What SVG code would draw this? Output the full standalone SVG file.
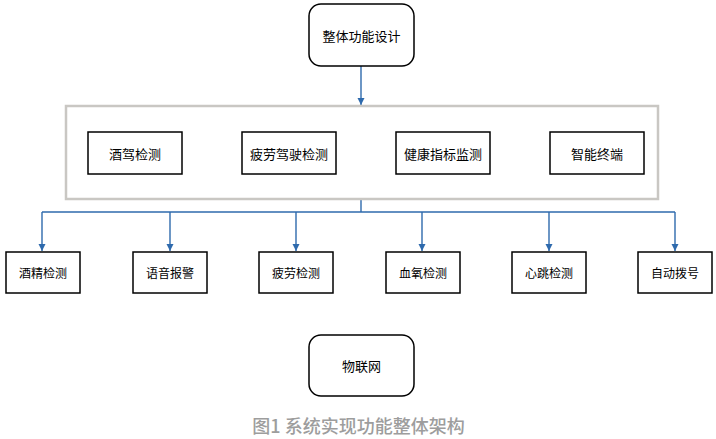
<svg xmlns="http://www.w3.org/2000/svg" width="716" height="439" viewBox="0 0 716 439">
<style>
text{font-family:"Noto Sans CJK SC","Liberation Sans",sans-serif;fill:#000;text-anchor:middle;dominant-baseline:central}
.b{fill:#fff;stroke:#000;stroke-width:1.5}
.t13{font-size:13px}
.t12{font-size:12px}
.c{fill:none;stroke:#2e6aad;stroke-width:1.4}
</style>
<defs>
<marker id="ah" markerWidth="8" markerHeight="8" refX="7" refY="4" orient="auto" markerUnits="userSpaceOnUse">
<path d="M0,0.5 L7,4 L0,7.5 Z" fill="#2e6aad"/>
</marker>
</defs>
<rect x="0" y="0" width="716" height="439" fill="#fff"/>
<g id="connectors">
<line class="c" x1="361" y1="66" x2="361" y2="105" marker-end="url(#ah)"/>
<polyline class="c" points="361,199 361,212"/>
<line class="c" x1="42" y1="212" x2="675" y2="212"/>
<line class="c" x1="42" y1="212" x2="42" y2="251" marker-end="url(#ah)"/>
<line class="c" x1="170" y1="212" x2="170" y2="251" marker-end="url(#ah)"/>
<line class="c" x1="296" y1="212" x2="296" y2="251" marker-end="url(#ah)"/>
<line class="c" x1="422" y1="212" x2="422" y2="251" marker-end="url(#ah)"/>
<line class="c" x1="549" y1="212" x2="549" y2="251" marker-end="url(#ah)"/>
<line class="c" x1="675" y1="212" x2="675" y2="251" marker-end="url(#ah)"/>
</g>
<g id="top">
<rect class="b" x="309" y="4" width="105" height="62" rx="12"/>
<text class="t13" x="361.5" y="35">整体功能设计</text>
</g>
<g id="container">
<rect x="66" y="106" width="592" height="93" fill="#fff" stroke="#c9c7c3" stroke-width="2.5"/>
</g>
<g id="n1"><rect class="b" x="88" y="132" width="94" height="42"/><text class="t13" x="135" y="153">酒驾检测</text></g>
<g id="n2"><rect class="b" x="242" y="132" width="94" height="42"/><text class="t13" x="289" y="153">疲劳驾驶检测</text></g>
<g id="n3"><rect class="b" x="396" y="132" width="94" height="42"/><text class="t13" x="443" y="153">健康指标监测</text></g>
<g id="n4"><rect class="b" x="550" y="132" width="94" height="42"/><text class="t13" x="597" y="153">智能终端</text></g>
<g id="b1"><rect class="b" x="6" y="252" width="74" height="41"/><text class="t12" x="43" y="272.5">酒精检测</text></g>
<g id="b2"><rect class="b" x="133" y="252" width="74" height="41"/><text class="t12" x="170" y="272.5">语音报警</text></g>
<g id="b3"><rect class="b" x="259" y="252" width="74" height="41"/><text class="t12" x="296" y="272.5">疲劳检测</text></g>
<g id="b4"><rect class="b" x="386" y="252" width="74" height="41"/><text class="t12" x="423" y="272.5">血氧检测</text></g>
<g id="b5"><rect class="b" x="512" y="252" width="74" height="41"/><text class="t12" x="549" y="272.5">心跳检测</text></g>
<g id="b6"><rect class="b" x="638" y="252" width="74" height="41"/><text class="t12" x="675" y="272.5">自动拨号</text></g>
<g id="iot"><rect class="b" x="309" y="335" width="105" height="61" rx="12"/><text class="t13" x="361.5" y="365">物联网</text></g>
<text x="358.5" y="425" style="font-size:18px;fill:#9d9d9d;font-weight:500">图1 系统实现功能整体架构</text>
</svg>
